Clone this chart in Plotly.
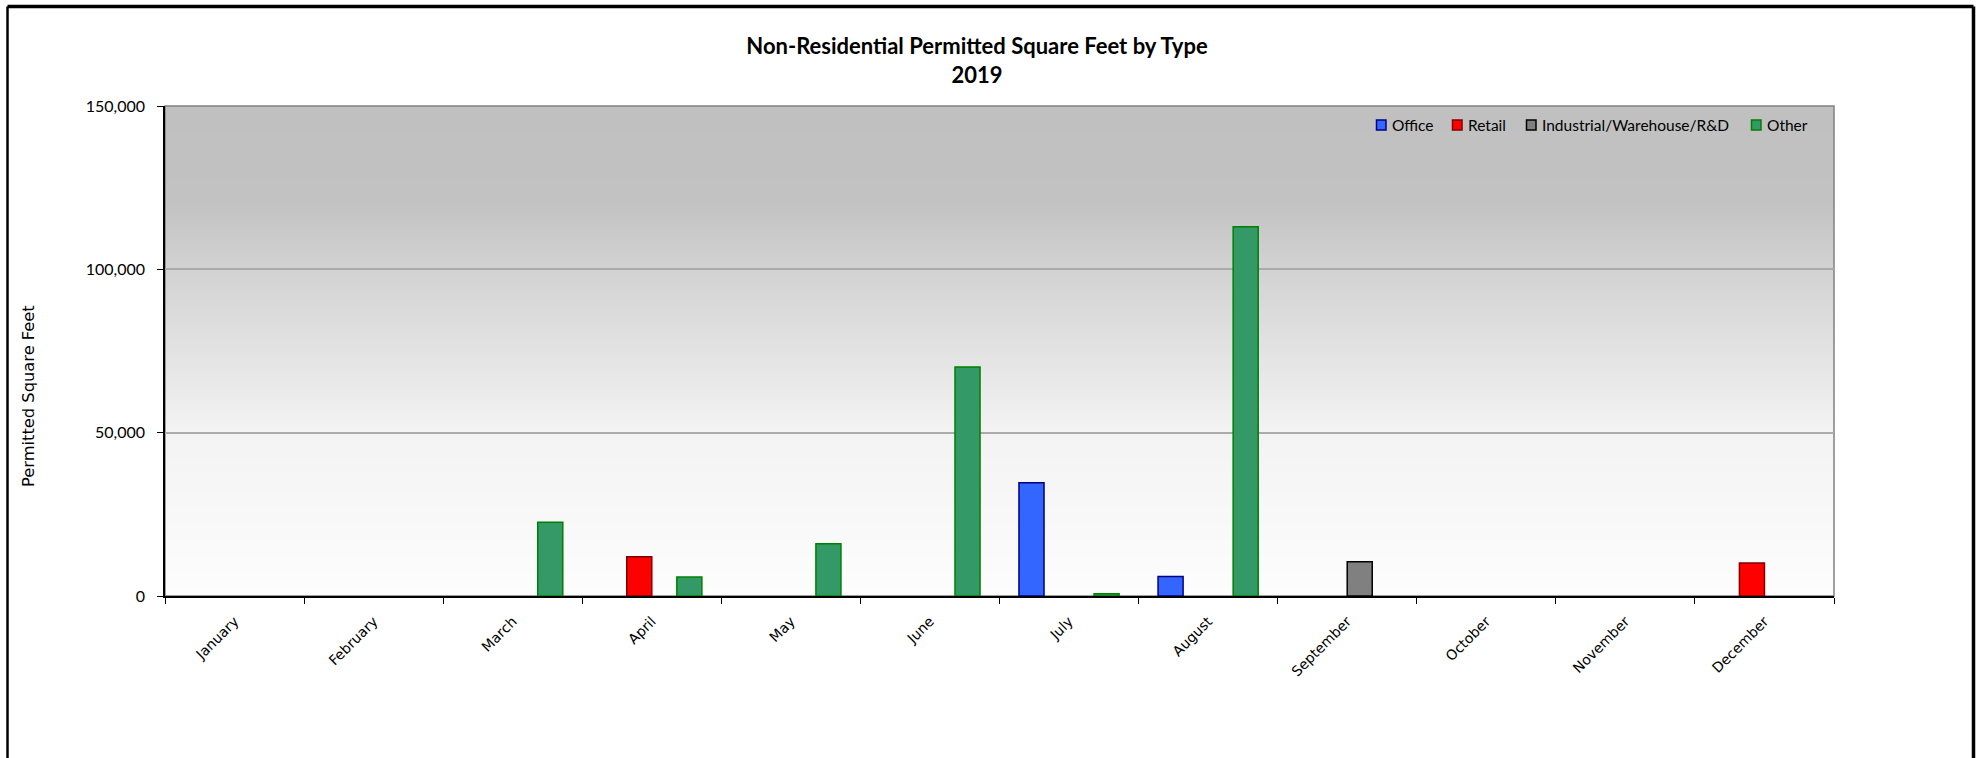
import plotly.graph_objects as go

months = ["January", "February", "March", "April", "May", "June", "July",
          "August", "September", "October", "November", "December"]
office = [None, None, None, None, None, None, 34700, 6000, None, None, None, None]
retail = [None, None, None, 12000, None, None, None, None, None, None, None, 10100]
industrial = [None, None, None, None, None, None, None, None, 10500, None, None, None]
other = [None, None, 22600, 5800, 16000, 70100, 700, 113000, None, None, None, None]

series_names = ["Office", "Retail", "Industrial/Warehouse/R&D", "Other"]
series_values = [office, retail, industrial, other]
fills = ["#3366ff", "#ff0000", "#808080", "#339966"]
edges = ["#000080", "#800000", "#000000", "#008000"]

W, H = 1988, 758
L, R, T, B = 165, 1834, 106, 596
pw, ph = R - L, B - T

def px_x(x):
    return (x - L) / pw

def px_y(y):
    return (B - y) / ph

fig = go.Figure()
for name, vals, fill, edge in zip(series_names, series_values, fills, edges):
    fig.add_trace(go.Bar(x=months, y=vals, name=name, showlegend=False,
                         marker=dict(color=fill, line=dict(color=edge, width=1.5))))

shapes = []
annotations = []
# gradient background
stops = [(0.0, 253), (0.333, 243), (0.667, 210), (0.8, 194), (1.0, 192)]
def gray(f):
    for (f0, g0), (f1, g1) in zip(stops[:-1], stops[1:]):
        if f0 <= f <= f1:
            return g0 + (g1 - g0) * (f - f0) / (f1 - f0)
    return stops[-1][1]
N = 120
for i in range(N):
    y0 = i / N
    y1 = (i + 1) / N
    g = int(round(gray((y0 + y1) / 2)))
    shapes.append(dict(type="rect", xref="paper", yref="paper", x0=0, x1=1, y0=y0, y1=min(1, y1 + 0.002),
                       fillcolor=f"rgb({g},{g},{g})", line=dict(width=0), layer="below"))
# plot area border
shapes.append(dict(type="rect", xref="paper", yref="paper", x0=0, x1=1, y0=0, y1=1,
                   line=dict(color="#808080", width=1.5), layer="below"))
# outer chart frame
fx0, fx1, fy0 = px_x(7.5), px_x(1973.5), px_y(6.5)
fb = px_y(800)
shapes.append(dict(type="line", xref="paper", yref="paper", x0=fx0, x1=fx1, y0=fy0, y1=fy0,
                   line=dict(color="black", width=3.5)))
shapes.append(dict(type="line", xref="paper", yref="paper", x0=fx0, x1=fx0, y0=fy0, y1=fb,
                   line=dict(color="black", width=2.5)))
shapes.append(dict(type="line", xref="paper", yref="paper", x0=fx1, x1=fx1, y0=fy0, y1=fb,
                   line=dict(color="black", width=3.5)))

# legend (manual, compact like the original)
leg_box_x = [1376.5, 1452.5, 1526.5, 1751.5]
leg_y = 125
for name, fill, edge, bx in zip(series_names, fills, edges, leg_box_x):
    shapes.append(dict(type="rect", xref="paper", yref="paper",
                       x0=px_x(bx), x1=px_x(bx + 9.5), y0=px_y(leg_y + 5), y1=px_y(leg_y - 5),
                       fillcolor=fill, line=dict(color=edge, width=1.5)))
    annotations.append(dict(text=name, xref="paper", yref="paper", x=px_x(bx + 13.5), y=px_y(leg_y),
                            xanchor="left", yanchor="middle", showarrow=False,
                            font=dict(family="Lato", size=15.5, color="black")))

annotations.append(dict(text="Permitted Square Feet", xref="paper", yref="paper",
                        x=px_x(28), y=px_y(396), textangle=-90, showarrow=False,
                        xanchor="center", yanchor="middle",
                        font=dict(size=16.3, family="DejaVu Sans", color="black")))

fig.update_layout(
    width=W, height=H,
    margin=dict(l=L, r=W - R, t=T, b=H - B, autoexpand=False),
    paper_bgcolor="white", plot_bgcolor="rgba(0,0,0,0)",
    font=dict(family="Lato", size=14, color="black"),
    title=dict(text="<b>Non-Residential Permitted Square Feet by Type<br>2019</b>",
               x=977 / W, xanchor="center", y=1 - 54 / H, yanchor="middle", xref="container",
               font=dict(family="Lato", size=22, color="black")),
    barmode="group", bargap=0.28, bargroupgap=0,
    shapes=shapes,
    annotations=annotations,
    showlegend=False,
)
fig.update_xaxes(type="category", tickangle=-45, ticks="outside", tickson="boundaries",
                 ticklen=6, tickcolor="black", showline=True, linecolor="black", linewidth=1.5,
                 showgrid=False, tickfont=dict(family="DejaVu Sans", size=14),
                 ticklabelstandoff=10, layer="above traces")
fig.update_yaxes(range=[0, 150000], dtick=50000, tickformat=",", ticks="outside", ticklen=6,
                 tickcolor="black", showline=True, linecolor="black", linewidth=1.5,
                 showgrid=True, gridcolor="#ababab", gridwidth=1.5, zeroline=False,
                 tickfont=dict(family="Lato", size=16), ticklabelstandoff=9)

fig.write_html("out.html", config={"displayModeBar": False},
               post_script="document.body.style.margin='0';")
